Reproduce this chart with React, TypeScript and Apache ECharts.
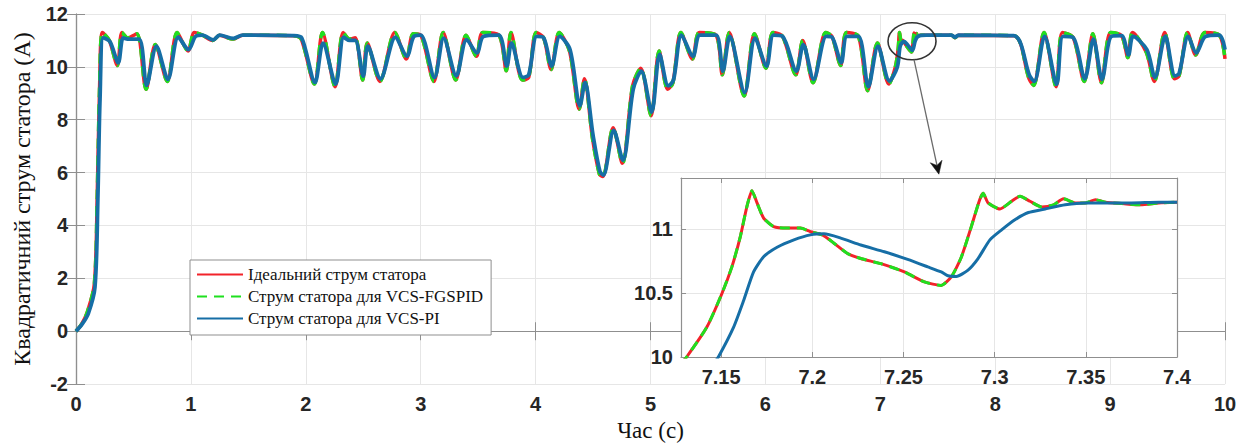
import React, { useEffect, useRef } from "react";
import * as echarts from "echarts";

const yTitle = "Квадратичний струм статора (A)";
const xTitle = "Час (с)";
const legendNames = [
  "Ідеальний струм статора",
  "Струм статора для VCS-FGSPID",
  "Струм статора для VCS-PI",
];

const mainXTicks = { min: 0, max: 10, interval: 1 };
const mainYTicks = { min: -2, max: 12, interval: 2 };
const zoomX = { min: 7.128, max: 7.4 };
const zoomY = { min: 10, max: 11.4, interval: 0.5 };

const idealMain: [number, number][] = [
  [0, 0], [0.05, 0.28], [0.1, 0.75], [0.16, 1.8], [0.185, 5.2], [0.205, 9.2], [0.23, 11.3],
  [0.29, 11.0], [0.36, 10.05], [0.4, 11.3], [0.45, 11.1], [0.53, 11.25], [0.61, 9.15],
  [0.69, 10.85], [0.795, 9.45], [0.88, 11.3], [0.975, 10.6], [1.03, 11.3], [1.1, 11.2],
  [1.19, 11.0], [1.25, 11.2], [1.365, 11.05], [1.45, 11.2], [1.89, 11.18], [1.96, 11.05],
  [2.075, 9.35], [2.145, 11.3], [2.255, 9.25], [2.325, 11.3], [2.38, 11.05], [2.43, 11.1],
  [2.495, 9.5], [2.535, 10.9], [2.645, 9.45], [2.775, 11.3], [2.875, 10.3], [2.935, 11.25],
  [3.0, 11.2], [3.115, 9.45], [3.195, 11.3], [3.305, 9.5], [3.395, 11.2], [3.485, 10.4],
  [3.54, 11.3], [3.68, 11.2], [3.745, 9.85], [3.785, 11.3], [3.885, 9.5], [3.94, 9.6],
  [4.005, 11.3], [4.07, 11.1], [4.135, 9.9], [4.205, 11.3], [4.295, 10.6], [4.38, 8.4],
  [4.425, 9.55], [4.495, 7.3], [4.555, 5.95], [4.585, 5.85], [4.675, 7.7], [4.755, 6.35],
  [4.845, 9.3], [4.915, 9.95], [5.005, 8.15], [5.075, 10.6], [5.15, 9.15], [5.195, 9.4],
  [5.265, 11.3], [5.365, 10.3], [5.425, 11.3], [5.57, 11.2], [5.625, 9.7], [5.685, 11.3],
  [5.815, 8.9], [5.905, 11.25], [6.005, 9.95], [6.065, 11.3], [6.15, 11.15], [6.265, 9.7],
  [6.325, 11.0], [6.415, 9.4], [6.525, 11.3], [6.58, 11.15], [6.655, 10.05], [6.705, 11.3],
  [6.81, 11.15], [6.89, 9.1], [6.975, 10.9], [7.075, 9.35], [7.131, 10.0], [7.156, 10.7],
  [7.167, 11.3], [7.179, 11.02], [7.195, 11.0], [7.238, 10.73], [7.271, 10.56], [7.287, 11.02],
  [7.294, 11.28], [7.303, 11.16], [7.314, 11.26], [7.326, 11.17], [7.35, 11.2], [7.62, 11.2],
  [7.65, 11.1], [7.68, 11.2], [8.16, 11.18], [8.295, 9.55], [8.335, 9.3], [8.425, 11.3],
  [8.53, 9.25], [8.585, 11.3], [8.68, 11.1], [8.775, 9.45], [8.85, 11.25], [8.925, 9.4],
  [9.005, 11.3], [9.1, 11.18], [9.155, 10.35], [9.195, 11.3], [9.315, 10.55], [9.385, 9.45],
  [9.475, 11.3], [9.56, 9.55], [9.6, 9.65], [9.675, 11.3], [9.745, 10.45], [9.825, 11.3],
  [9.95, 11.2], [10.0, 10.3],
];

const fgspidMain: [number, number][] = idealMain;

const piMain: [number, number][] = [
  [0, 0], [0.05, 0.25], [0.107, 0.67], [0.165, 1.67], [0.19, 5.0], [0.209, 8.8], [0.238, 11.1],
  [0.296, 10.95], [0.368, 10.16], [0.41, 11.1], [0.45, 11.05], [0.55, 11.05], [0.615, 9.3],
  [0.7, 10.78], [0.8, 9.53], [0.89, 11.12], [0.98, 10.65], [1.04, 11.15], [1.1, 11.2],
  [1.195, 11.02], [1.25, 11.2], [1.37, 11.08], [1.45, 11.2], [1.89, 11.18], [1.964, 11.1],
  [2.08, 9.41], [2.15, 10.9], [2.26, 9.35], [2.33, 11.12], [2.38, 11.0], [2.43, 11.0],
  [2.5, 9.65], [2.54, 10.78], [2.65, 9.55], [2.78, 11.12], [2.88, 10.4], [2.94, 11.15],
  [3.0, 11.2], [3.12, 9.6], [3.2, 11.09], [3.31, 9.66], [3.4, 11.03], [3.49, 10.53],
  [3.545, 11.15], [3.68, 11.2], [3.75, 10.03], [3.79, 10.9], [3.89, 9.6], [3.94, 9.7],
  [4.01, 11.15], [4.07, 11.1], [4.14, 10.03], [4.21, 11.15], [4.3, 10.65], [4.386, 8.53],
  [4.43, 9.41], [4.5, 7.41], [4.56, 6.04], [4.59, 5.91], [4.68, 7.6], [4.76, 6.47],
  [4.85, 9.16], [4.92, 9.84], [5.01, 8.29], [5.08, 10.47], [5.155, 9.28], [5.2, 9.5],
  [5.27, 11.2], [5.37, 10.4], [5.43, 11.2], [5.57, 11.2], [5.63, 9.84], [5.69, 11.15],
  [5.82, 9.03], [5.91, 11.09], [6.01, 10.03], [6.07, 11.2], [6.15, 11.15], [6.27, 9.84],
  [6.33, 10.84], [6.42, 9.53], [6.53, 11.15], [6.58, 11.12], [6.66, 10.16], [6.71, 11.15],
  [6.81, 11.15], [6.896, 9.25], [6.98, 10.78], [7.08, 9.47], [7.1485, 10.0], [7.173, 10.78],
  [7.206, 10.96], [7.24, 10.82], [7.279, 10.63], [7.304, 10.99], [7.33, 11.16], [7.4, 11.2],
  [7.62, 11.2], [7.65, 11.12], [7.68, 11.2], [8.16, 11.18], [8.3, 9.66], [8.34, 9.45],
  [8.43, 11.15], [8.535, 9.34], [8.59, 11.15], [8.68, 11.1], [8.78, 9.55], [8.855, 11.05],
  [8.93, 9.53], [9.01, 11.15], [9.1, 11.18], [9.16, 10.45], [9.2, 11.15], [9.32, 10.65],
  [9.39, 9.6], [9.48, 11.15], [9.565, 9.66], [9.6, 9.75], [9.68, 11.15], [9.75, 10.53],
  [9.83, 11.15], [9.95, 11.2], [10.0, 10.65],
];

const idealZoom: [number, number][] = [
  [7.128, 9.95], [7.1311, 10.0], [7.1421, 10.232], [7.1504, 10.495], [7.1559, 10.705],
  [7.1605, 10.94], [7.1642, 11.18], [7.1669, 11.3], [7.1697, 11.205], [7.1733, 11.087],
  [7.1788, 11.02], [7.1862, 11.008], [7.1935, 11.008], [7.199, 10.98], [7.2055, 10.955],
  [7.2119, 10.89], [7.2193, 10.81], [7.2266, 10.77], [7.2376, 10.73], [7.2505, 10.665],
  [7.2615, 10.587], [7.2707, 10.56], [7.2762, 10.626], [7.2817, 10.78], [7.2872, 11.02],
  [7.2918, 11.23], [7.2937, 11.28], [7.2964, 11.205], [7.3029, 11.158], [7.3093, 11.218],
  [7.3139, 11.257], [7.3194, 11.218], [7.3259, 11.173], [7.3323, 11.19], [7.3378, 11.237],
  [7.3442, 11.205], [7.3497, 11.205], [7.3553, 11.23], [7.3608, 11.21], [7.37, 11.2],
  [7.38, 11.19], [7.39, 11.205], [7.4, 11.21],
];

const fgspidZoom: [number, number][] = idealZoom;

const piZoom: [number, number][] = [
  [7.146, 9.95], [7.1485, 10.0], [7.1568, 10.232], [7.1623, 10.44], [7.1678, 10.665],
  [7.1733, 10.784], [7.1807, 10.858], [7.1899, 10.916], [7.199, 10.955], [7.2064, 10.963],
  [7.2156, 10.93], [7.2266, 10.876], [7.2395, 10.823], [7.2523, 10.763], [7.2633, 10.705],
  [7.2707, 10.665], [7.2744, 10.635], [7.279, 10.63], [7.2854, 10.68], [7.2909, 10.77],
  [7.2974, 10.916], [7.3038, 10.994], [7.3111, 11.073], [7.3185, 11.13], [7.3277, 11.158],
  [7.3387, 11.19], [7.3497, 11.205], [7.375, 11.205], [7.39, 11.21], [7.4, 11.21],
];

const RED = "#f2232a";
const GREEN = "#1fe01f";
const BLUE = "#166ea6";
const BOX = "#8f8f8f";
const GRIDLINE = "#e6e6e6";

const tickFont = {
  fontFamily: "'Liberation Sans', Arial, sans-serif",
  fontWeight: "bold" as const,
  fontSize: 20,
  color: "#262626",
};
const serif = "'Liberation Serif', 'Times New Roman', serif";

export default function App() {
  const ref = useRef<HTMLDivElement>(null);

  useEffect(() => {
    if (!ref.current) return;
    const chart = echarts.init(ref.current, null, { renderer: "svg" });

    const axisLine = { show: true, lineStyle: { color: BOX, width: 1.2 } };
    const mkLine = (name: string, data: [number, number][], color: string, width: number, dashed: boolean, idx: number, z: number, smooth: number) => ({
      type: "line",
      name,
      data,
      xAxisIndex: idx,
      yAxisIndex: idx,
      showSymbol: false,
      symbol: "none",
      smooth,
      z,
      silent: true,
      lineStyle: { color, width, type: dashed ? [10, 7] : "solid", cap: "butt" },
      itemStyle: { color },
    });

    chart.setOption({
      animation: false,
      backgroundColor: "#ffffff",
      grid: [
        { left: 76, top: 14, right: 28, bottom: 59, containLabel: false },
        { left: 681, top: 178, width: 496, height: 179, containLabel: false },
      ],
      legend: {
        left: 190,
        top: 260,
        orient: "vertical",
        itemWidth: 46,
        itemHeight: 14,
        itemGap: 3,
        padding: [5, 8, 7, 6],
        backgroundColor: "#ffffff",
        borderColor: BOX,
        borderWidth: 1,
        itemStyle: { color: "transparent", borderWidth: 0, opacity: 0 },
        textStyle: { fontFamily: serif, fontSize: 17, lineHeight: 19, color: "#111" },
        data: legendNames,
        selectedMode: false,
      },
      xAxis: [
        {
          type: "value", gridIndex: 0, position: "bottom", ...mainXTicks,
          axisLine, axisTick: { show: true, inside: true, length: 9, lineStyle: { color: BOX } },
          axisLabel: { ...tickFont, margin: 10 },
          splitLine: { show: true, lineStyle: { color: GRIDLINE, width: 1 } },
          name: xTitle, nameLocation: "middle", nameGap: 29,
          nameTextStyle: { fontFamily: serif, fontSize: 23, color: "#111" },
        },
        {
          type: "value", gridIndex: 1, position: "bottom", min: zoomX.min, max: zoomX.max, splitNumber: 5, z: 2,
          axisLine, axisTick: { show: true, inside: true, length: 5, lineStyle: { color: BOX } },
          axisLabel: { ...tickFont, margin: 10, showMinLabel: false },
          splitLine: { show: true, lineStyle: { color: GRIDLINE, width: 1 } },
        },
        {
          type: "value", gridIndex: 0, position: "top", ...mainXTicks,
          axisLine, axisTick: { show: true, inside: true, length: 9, lineStyle: { color: BOX } },
          axisLabel: { show: false }, splitLine: { show: false },
        },
        {
          type: "value", gridIndex: 1, position: "top", min: zoomX.min, max: zoomX.max, splitNumber: 5, z: 2,
          axisLine, axisTick: { show: true, inside: true, length: 5, lineStyle: { color: BOX } },
          axisLabel: { show: false }, splitLine: { show: false },
        },
      ],
      yAxis: [
        {
          type: "value", gridIndex: 0, position: "left", ...mainYTicks,
          axisLine, axisTick: { show: true, inside: true, length: 9, lineStyle: { color: BOX } },
          axisLabel: { ...tickFont, margin: 8 },
          splitLine: { show: true, lineStyle: { color: GRIDLINE, width: 1 } },
          name: yTitle, nameLocation: "middle", nameGap: 42,
          nameTextStyle: { fontFamily: serif, fontSize: 24, color: "#111" },
        },
        {
          type: "value", gridIndex: 1, position: "left", ...zoomY, z: 2,
          axisLine, axisTick: { show: true, inside: true, length: 5, lineStyle: { color: BOX } },
          axisLabel: { ...tickFont, margin: 8, showMaxLabel: false },
          splitLine: { show: true, lineStyle: { color: GRIDLINE, width: 1 } },
        },
        {
          type: "value", gridIndex: 0, position: "right", ...mainYTicks,
          axisLine, axisTick: { show: true, inside: true, length: 9, lineStyle: { color: BOX } },
          axisLabel: { show: false }, splitLine: { show: false },
        },
        {
          type: "value", gridIndex: 1, position: "right", ...zoomY, z: 2,
          axisLine, axisTick: { show: true, inside: true, length: 5, lineStyle: { color: BOX } },
          axisLabel: { show: false }, splitLine: { show: false },
        },
      ],
      series: [
        mkLine(legendNames[0], idealMain, RED, 3.5, false, 0, 2, 0.3),
        mkLine(legendNames[1], fgspidMain, GREEN, 3.5, true, 0, 2, 0.3),
        mkLine(legendNames[2], piMain, BLUE, 3.8, false, 0, 2, 0.3),
        mkLine(legendNames[0], idealZoom, RED, 3, false, 1, 3, 0.2),
        mkLine(legendNames[1], fgspidZoom, GREEN, 3, true, 1, 3, 0.2),
        mkLine(legendNames[2], piZoom, BLUE, 3, false, 1, 3, 0.2),
      ],
    });

    const px = (idx: number, v: [number, number]) =>
      chart.convertToPixel({ xAxisIndex: idx, yAxisIndex: idx }, v) as number[];

    const tl = px(1, [zoomX.min, zoomY.min + 1.4]);
    const br = px(1, [zoomX.max, zoomY.min]);
    const c = px(0, [7.276, 10.97]);
    const rx = 24;
    const ry = 18.5;
    const s = [c[0] + 2, c[1] + ry];
    const t = px(0, [7.51, 5.94]);
    const dx = t[0] - s[0];
    const dy = t[1] - s[1];
    const len = Math.hypot(dx, dy);
    const ux = dx / len;
    const uy = dy / len;
    const nx = -uy;
    const ny = ux;
    const hl = 13;
    const hw = 6;
    const b = [t[0] - ux * hl, t[1] - uy * hl];
    const notch = [t[0] - ux * (hl - 4), t[1] - uy * (hl - 4)];

    chart.setOption({
      graphic: [
        {
          type: "rect", z: 1, silent: true,
          shape: { x: tl[0], y: tl[1], width: br[0] - tl[0], height: br[1] - tl[1] },
          style: { fill: "#ffffff" },
        },
        {
          type: "ellipse", z: 5, silent: true,
          shape: { cx: c[0], cy: c[1], rx, ry },
          style: { fill: "none", stroke: "#333", lineWidth: 1.6 },
        },
        {
          type: "line", z: 5, silent: true,
          shape: { x1: s[0], y1: s[1], x2: notch[0], y2: notch[1] },
          style: { stroke: "#6a6a6a", lineWidth: 1.3 },
        },
        {
          type: "polygon", z: 5, silent: true,
          shape: {
            points: [
              [t[0], t[1]],
              [b[0] + nx * hw, b[1] + ny * hw],
              [notch[0], notch[1]],
              [b[0] - nx * hw, b[1] - ny * hw],
            ],
          },
          style: { fill: "#111", stroke: "#111", lineWidth: 0.5 },
        },
      ],
    });

    return () => chart.dispose();
  }, []);

  return (
    <div
      ref={ref}
      style={{ position: "fixed", left: 0, top: 0, width: 1253, height: 447, background: "#fff" }}
    />
  );
}
